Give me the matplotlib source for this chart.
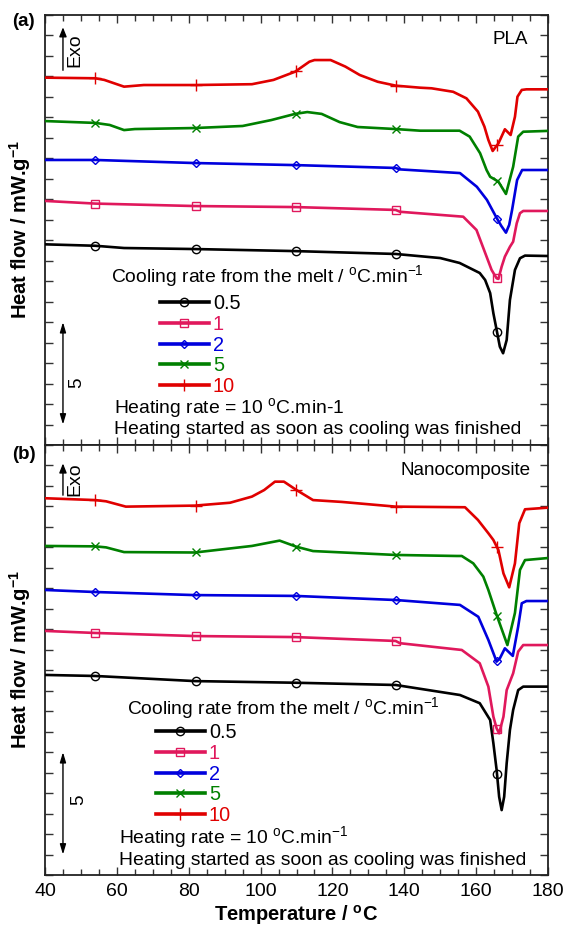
import numpy as np
import matplotlib
matplotlib.use('Agg')
import matplotlib.pyplot as plt
from matplotlib.lines import Line2D

plt.rcParams['font.family'] = ['Liberation Sans', 'DejaVu Sans']
plt.rcParams['mathtext.fontset'] = 'custom'
plt.rcParams['mathtext.rm'] = 'Liberation Sans'
plt.rcParams['mathtext.it'] = 'Liberation Sans:italic'
plt.rcParams['mathtext.bf'] = 'Liberation Sans:bold'

rates = ['0.5', '1', '2', '5', '10']
colors = ['#000000', '#E0185C', '#0000DD', '#008000', '#E00000']
markers = ['o', 's', 'D', 'x', '+']
msizes = [6, 6, 4, 6, 8]
marker_T = [53.9, 81.9, 109.8, 137.8, 165.8]
x_ticks = [40, 60, 80, 100, 120, 140, 160, 180]

# ---------------- (a) PLA ----------------
pla_T_05 = [40, 54, 62, 81.7, 109.6, 137.6, 150, 155.4, 161, 162.5, 163.9, 164.8, 165.7, 166.6, 167.5, 168.5, 169.4, 170.8, 172.2, 173.6, 180]
pla_hf_05 = [9.80, 9.73, 9.62, 9.57, 9.47, 9.33, 9.13, 8.89, 8.40, 8.06, 7.42, 6.43, 5.62, 4.80, 4.48, 5.13, 7.08, 8.55, 9.12, 9.25, 9.23]

pla_T_1 = [40, 54, 81.7, 109.6, 137.6, 138.8, 156.4, 160.1, 162.9, 164.3, 165.7, 166.2, 167.1, 168.0, 169.4, 170.3, 171.3, 172.2, 173.1, 180]
pla_hf_1 = [11.92, 11.79, 11.67, 11.62, 11.48, 11.39, 11.15, 10.50, 9.20, 8.55, 8.14, 8.11, 8.71, 9.20, 9.68, 9.93, 10.83, 11.32, 11.43, 11.43]

pla_T_2 = [40, 54, 81.7, 109.6, 137.6, 138.8, 155.5, 160.2, 163.0, 165.7, 167.0, 168.3, 169.2, 170.0, 171.4, 172.8, 180]
pla_hf_2 = [13.92, 13.92, 13.77, 13.67, 13.53, 13.46, 13.28, 12.61, 11.97, 11.09, 10.70, 10.37, 10.75, 11.48, 12.94, 13.43, 13.43]

pla_T_5 = [40, 54, 58, 62, 65, 81.7, 95, 103, 109.6, 113, 117, 122, 127, 137.6, 144.4, 155.4, 158.2, 161.1, 162.9, 163.9, 166.2, 168.3, 170.3, 171.7, 173.1, 180]
pla_hf_5 = [15.82, 15.73, 15.63, 15.38, 15.43, 15.48, 15.58, 15.87, 16.17, 16.26, 16.17, 15.77, 15.53, 15.43, 15.35, 15.35, 15.06, 14.25, 13.43, 13.10, 12.86, 12.26, 13.59, 15.06, 15.30, 15.34]

pla_T_10 = [40, 54, 56.5, 62, 67.5, 81.7, 97.6, 103.6, 109.6, 113.6, 115, 119.5, 123.6, 127.6, 132.6, 137.6, 144.4, 147.6, 153.6, 157.3, 160.5, 162.3, 163.4, 164.6, 166.2, 168.0, 169.6, 170.8, 171.5, 172.7, 174, 180]
pla_hf_10 = [17.94, 17.91, 17.83, 17.50, 17.58, 17.58, 17.62, 17.83, 18.23, 18.72, 18.80, 18.80, 18.48, 18.07, 17.74, 17.55, 17.45, 17.42, 17.25, 16.93, 16.28, 15.55, 14.90, 14.36, 14.73, 15.42, 15.14, 16.03, 17.01, 17.34, 17.37, 17.37]

# ---------------- (b) Nanocomposite ----------------
nc_T_05 = [40, 54, 81.7, 109.6, 137.6, 155.5, 161, 163.9, 164.8, 165.7, 166.4, 167.1, 167.8, 168.5, 169.4, 170.3, 171.7, 173.1, 180]
nc_hf_05 = [9.77, 9.72, 9.47, 9.39, 9.28, 8.79, 8.39, 7.57, 6.43, 5.13, 3.82, 3.17, 3.82, 5.46, 7.08, 8.06, 9.03, 9.20, 9.20]

nc_T_1 = [40, 54, 81.7, 109.6, 137.6, 138.8, 156, 161, 163.4, 164.8, 165.7, 166.4, 167.6, 168.5, 170.3, 171.7, 173.1, 180]
nc_hf_1 = [11.92, 11.82, 11.67, 11.62, 11.43, 11.32, 10.99, 10.34, 9.20, 7.73, 7.16, 6.92, 7.73, 9.03, 9.85, 10.91, 11.23, 11.23]

nc_T_2 = [40, 54, 81.7, 109.6, 137.6, 155.5, 160.6, 163.4, 165.7, 166.6, 168.0, 170.2, 171.7, 172.7, 174, 180]
nc_hf_2 = [13.92, 13.82, 13.67, 13.63, 13.43, 13.19, 12.61, 11.48, 10.42, 10.58, 11.07, 10.70, 12.13, 13.27, 13.38, 13.38]

nc_T_5 = [40, 54, 57, 62, 81.7, 97.6, 105.3, 110, 114.6, 137.6, 154.6, 156, 159.2, 162, 163.4, 165.7, 168.7, 170.8, 172.2, 173.6, 180]
nc_hf_5 = [16.07, 16.05, 16.00, 15.77, 15.75, 16.07, 16.33, 16.03, 15.82, 15.63, 15.58, 15.58, 15.22, 14.57, 13.92, 12.70, 11.23, 12.80, 14.90, 15.38, 15.48]

nc_T_10 = [40, 54, 57, 62.5, 81.7, 91.5, 97.6, 101, 104, 106.5, 110, 114.6, 122.6, 137.6, 156.9, 160.5, 163.4, 164.8, 166.2, 167.6, 169.2, 170.8, 172, 173.6, 180]
nc_hf_10 = [18.40, 18.31, 18.25, 17.99, 18.04, 18.18, 18.48, 18.80, 19.21, 19.21, 18.80, 18.31, 18.22, 17.99, 17.96, 17.34, 16.69, 16.36, 15.87, 14.73, 14.05, 15.22, 17.18, 17.86, 17.94]

pla_series = [(pla_T_05, pla_hf_05), (pla_T_1, pla_hf_1), (pla_T_2, pla_hf_2), (pla_T_5, pla_hf_5), (pla_T_10, pla_hf_10)]
nc_series = [(nc_T_05, nc_hf_05), (nc_T_1, nc_hf_1), (nc_T_2, nc_hf_2), (nc_T_5, nc_hf_5), (nc_T_10, nc_hf_10)]

W, H = 565, 926
fig = plt.figure(figsize=(W / 100, H / 100), dpi=100)
left, right = 45 / W, 548 / W
ax_a = fig.add_axes([left, 1 - 445 / H, right - left, 430 / H])
ax_b = fig.add_axes([left, 1 - 875 / H, right - left, 430 / H])

LW = 1.9
TXT = 13.9


def draw_panel(ax, series, name, cfg):
    handles = []
    for (T, hf), c, m, ms, lab in zip(series, colors, markers, msizes, rates):
        ax.plot(T, hf, color=c, lw=LW, solid_joinstyle='round', zorder=3)
        my = np.interp(marker_T, T, hf)
        ax.plot(marker_T, my, ls='none', marker=m, ms=ms, mfc='none', mec=c, mew=1.0, zorder=4)
        handles.append(Line2D([], [], color=c, lw=2.6, marker=m, ms=ms, mfc='none', mec=c, mew=1.0, label=lab))
    ax.set_xlim(40, 180)
    ax.set_ylim(0, 21)
    ax.set_xticks(x_ticks)
    ax.set_xticks(np.arange(40, 181, 5), minor=True)
    ax.set_yticks(np.arange(0, 22, 1))
    ax.set_yticklabels([])
    ax.tick_params(which='both', direction='in', top=True, right=True, color='#333333')
    ax.tick_params(which='major', axis='x', length=6, width=1.0, labelsize=14, pad=6)
    ax.tick_params(which='minor', axis='x', length=4, width=1.0)
    ax.tick_params(which='major', axis='y', length=6, width=1.0)
    for s in ax.spines.values():
        s.set_linewidth(1.3)
        s.set_color('#222222')
    ax.set_ylabel('Heat flow / mW.g$^{\\mathbf{-1}}$', fontsize=14.5, fontweight='bold')
    ax.yaxis.set_label_coords(-0.024, 0.5)

    ax.text(cfg['name_x'], cfg['name_y'], name, transform=ax.transAxes, fontsize=13.6, ha='right', va='center')
    ax.text(cfg['title_x'], cfg['title_y'], 'Cooling rate from the melt / $^{\\rm o}$C.min$^{-1}$',
            transform=ax.transAxes, fontsize=TXT, ha='left', va='center')
    leg = ax.legend(handles=handles, loc='upper left', bbox_to_anchor=(cfg['leg_x'], cfg['leg_y']),
                    frameon=False, fontsize=14.3, handlelength=2.46, handletextpad=0.2,
                    labelspacing=0.09, borderpad=0, borderaxespad=0, numpoints=1)
    for t, c in zip(leg.get_texts(), colors):
        t.set_color(c)
    ax.text(cfg['hr_x'], cfg['hr_y'], cfg['hr_text'], transform=ax.transAxes, fontsize=TXT, ha='left', va='center')
    ax.text(cfg['hr_x'], cfg['hs_y'], 'Heating started as soon as cooling was finished',
            transform=ax.transAxes, fontsize=TXT, ha='left', va='center')
    # scale arrow (5 units)
    ax.annotate('', xy=(45, 1.0), xytext=(45, 6.0),
                arrowprops=dict(arrowstyle='<|-|>,head_length=0.6,head_width=0.18', color='black', lw=1.0,
                                shrinkA=0, shrinkB=0))
    ax.text(cfg['five_x'], cfg['five_y'], '5', transform=ax.transAxes, fontsize=13.5, rotation=90,
            ha='center', va='center')
    # Exo arrow
    ax.annotate('', xy=(45, cfg['exo_top']), xytext=(45, cfg['exo_bot']),
                arrowprops=dict(arrowstyle='-|>,head_length=0.55,head_width=0.22', color='black', lw=1.0,
                                shrinkA=0, shrinkB=0))
    ax.text(cfg['exo_x'], cfg['exo_y'], 'Exo', transform=ax.transAxes, fontsize=14, rotation=90,
            ha='center', va='center')


cfg_a = dict(name_x=0.960, name_y=0.942, title_x=0.131, title_y=0.393, leg_x=0.2286, leg_y=0.351,
             hr_x=0.137, hr_y=0.086, hs_y=0.035, hr_text='Heating rate = 10 $^{\\rm o}$C.min-1',
             five_x=0.0636, five_y=0.144, exo_top=20.4, exo_bot=18.3, exo_x=0.059, exo_y=0.919)
cfg_b = dict(name_x=0.9646, name_y=0.940, title_x=0.164, title_y=0.388, leg_x=0.2207, leg_y=0.3535,
             hr_x=0.148, hr_y=0.089, hs_y=0.0326, hr_text='Heating rate = 10 $^{\\rm o}$C.min$^{-1}$',
             five_x=0.0676, five_y=0.174, exo_top=20.1, exo_bot=18.55, exo_x=0.059, exo_y=0.921)

draw_panel(ax_a, pla_series, 'PLA', cfg_a)
draw_panel(ax_b, nc_series, 'Nanocomposite', cfg_b)

ax_a.tick_params(axis='x', labelbottom=False)
ax_b.set_xlabel('Temperature / $^{\\mathbf{o}}$C', fontsize=14.5, fontweight='bold', labelpad=2)

fig.text(12 / W, 1 - 22 / H, '(a)', fontsize=13.5, fontweight='bold', ha='left', va='center')
fig.text(12 / W, 1 - 455 / H, '(b)', fontsize=13.5, fontweight='bold', ha='left', va='center')

fig.savefig('out.png', dpi=100)
